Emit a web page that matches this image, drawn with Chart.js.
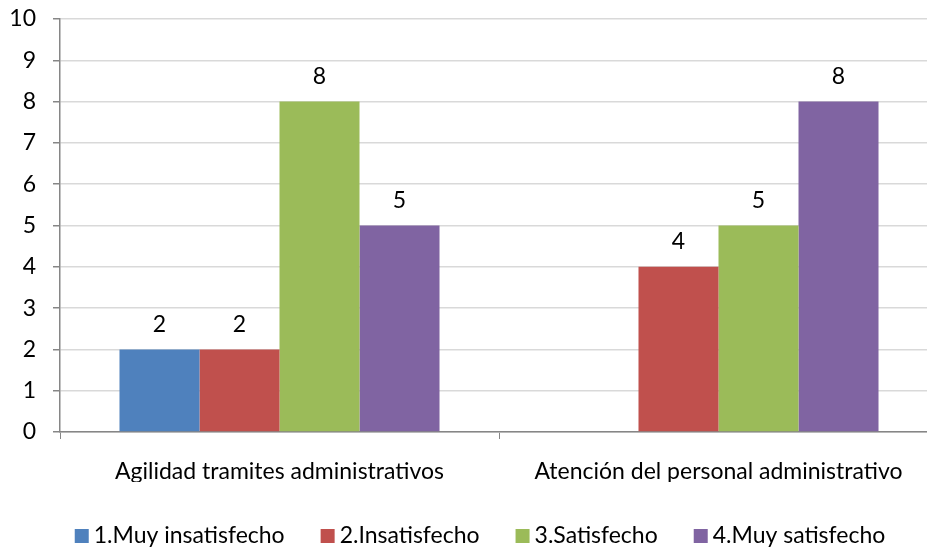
<!DOCTYPE html>
<html>
<head>
<meta charset="utf-8">
<script src="https://cdn.jsdelivr.net/npm/chart.js@4.4.0/dist/chart.umd.min.js"></script>
<style>
  html, body { margin: 0; padding: 0; background: #fff; overflow: hidden; }
  #wrap { position: relative; width: 940px; height: 550px; }
</style>
</head>
<body>
<div id="wrap"><canvas id="c"></canvas></div>
<script>
const categories = ['Agilidad tramites administrativos', 'Atención del personal administrativo'];
const seriesNames = ['1.Muy insatisfecho', '2.Insatisfecho', '3.Satisfecho', '4.Muy satisfecho'];
const muyInsatisfecho = [2, 0];
const insatisfecho = [2, 4];
const satisfecho = [8, 5];
const muySatisfecho = [5, 8];
const colors = ['#4F81BD', '#C0504D', '#9BBB59', '#8064A2'];

const FONT = 'Lato, "Open Sans", sans-serif';
const FS = 23;

const valueLabels = {
  id: 'valueLabels',
  afterDatasetsDraw(chart) {
    const ctx = chart.ctx;
    ctx.save();
    ctx.font = FS + 'px ' + FONT;
    ctx.fillStyle = '#000';
    ctx.textAlign = 'center';
    ctx.textBaseline = 'middle';
    chart.data.datasets.forEach((ds, i) => {
      const meta = chart.getDatasetMeta(i);
      meta.data.forEach((bar, j) => {
        const v = ds.data[j];
        if (!v) return;
        ctx.fillText(String(v), bar.x, bar.y - 25);
      });
    });
    ctx.restore();
  }
};

// Custom bottom legend, drawn from the dataset labels and colours
const bottomLegend = {
  id: 'bottomLegend',
  afterDraw(chart) {
    const ctx = chart.ctx;
    const box = 14, gapText = 5, gapItem = 36;
    const centerX = 480, baseline = 543;
    ctx.save();
    ctx.font = FS + 'px ' + FONT;
    const items = chart.data.datasets.map(ds => ({
      text: ds.label, color: ds.backgroundColor, w: ctx.measureText(ds.label).width
    }));
    const total = items.reduce((s, it) => s + box + gapText + it.w, 0) + gapItem * (items.length - 1);
    let x = centerX - total / 2;
    ctx.textBaseline = 'alphabetic';
    ctx.textAlign = 'left';
    items.forEach(it => {
      ctx.fillStyle = it.color;
      ctx.fillRect(x, baseline - box, box, box);
      x += box + gapText;
      ctx.fillStyle = '#000';
      ctx.fillText(it.text, x, baseline);
      x += it.w + gapItem;
    });
    ctx.restore();
  }
};

const allSeries = [muyInsatisfecho, insatisfecho, satisfecho, muySatisfecho];

new Chart(document.getElementById('c'), {
  type: 'bar',
  data: {
    labels: categories,
    datasets: allSeries.map((d, i) => ({
      label: seriesNames[i],
      data: d,
      backgroundColor: colors[i],
      borderWidth: 0,
      barPercentage: 1.0,
      categoryPercentage: 0.729
    }))
  },
  options: {
    responsive: true,
    maintainAspectRatio: false,
    animation: false,
    layout: { padding: { top: 19, right: 2, left: 0, bottom: 68 } },
    plugins: {
      tooltip: { enabled: false },
      legend: { display: false }
    },
    scales: {
      x: {
        afterFit(scale) { scale.height = 50; },
        grid: {
          offset: true,
          drawOnChartArea: false,
          drawTicks: true,
          tickLength: 7,
          color: '#868686',
          lineWidth: 1
        },
        border: { color: '#868686', width: 1.5 },
        ticks: {
          font: { family: FONT, size: FS },
          color: '#000',
          padding: 19
        }
      },
      y: {
        min: 0,
        max: 10,
        afterFit(scale) { scale.width = 60; scale.paddingTop = 0; scale.paddingBottom = 0; },
        ticks: {
          stepSize: 1,
          font: { family: FONT, size: FS },
          color: '#000',
          padding: 17
        },
        grid: {
          color: '#D9D9D9',
          lineWidth: 1.5,
          tickLength: 7,
          tickColor: '#868686'
        },
        border: { color: '#868686', width: 1.5 }
      }
    }
  },
  plugins: [valueLabels, bottomLegend]
});
</script>
</body>
</html>
